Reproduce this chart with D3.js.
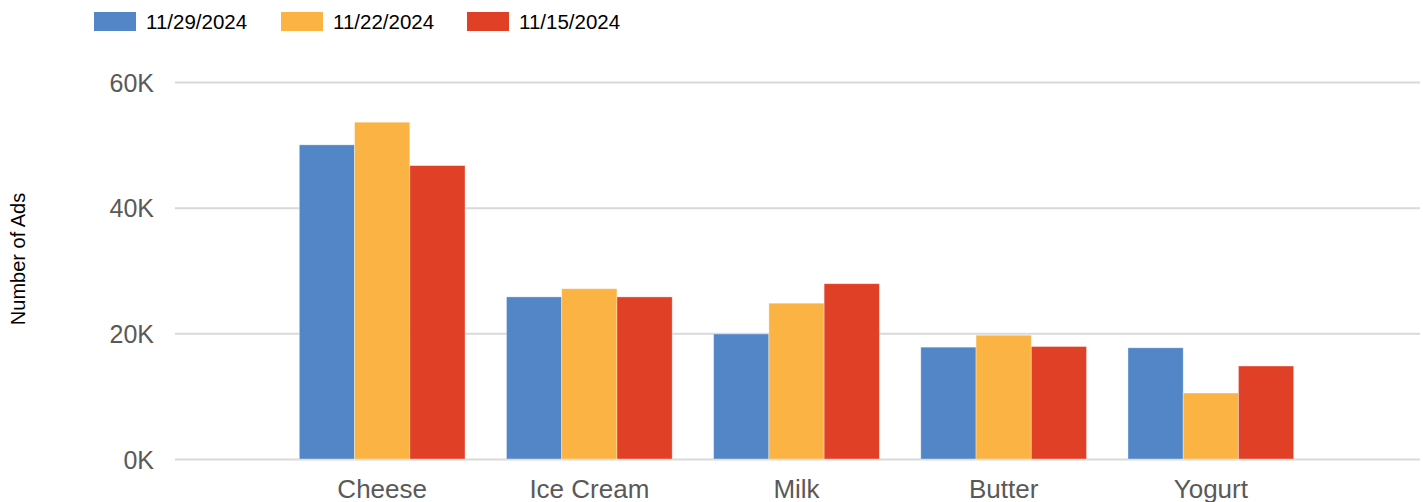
<!DOCTYPE html>
<html>
<head>
<meta charset="utf-8">
<script src="https://cdn.jsdelivr.net/npm/d3@7/dist/d3.min.js"></script>
<style>
  html, body { margin: 0; padding: 0; background: #fff; }
  svg { display: block; font-family: "Liberation Sans", Arial, sans-serif; }
</style>
</head>
<body>
<svg id="chart" width="1423" height="502"></svg>
<script>
// Weekly ad counts by dairy category
const categories = ["Cheese", "Ice Cream", "Milk", "Butter", "Yogurt"];
const seriesNames = ["11/29/2024", "11/22/2024", "11/15/2024"];
const seriesColors = ["#5386C7", "#FBB344", "#E04126"];
const values_1129 = [50000, 25800, 19900, 17800, 17700];
const values_1122 = [53600, 27100, 24800, 19700, 10500];
const values_1115 = [46700, 25800, 27900, 17900, 14800];
const yTicks = [0, 20000, 40000, 60000];
const yTitle = "Number of Ads";

const seriesValues = [values_1129, values_1122, values_1115];

const svg = d3.select("#chart");
const plot = { left: 175, right: 1418, top: 82, bottom: 459 };

const x0 = d3.scaleBand()
  .domain(categories)
  .range([plot.left, plot.right])
  .paddingInner(0.2)
  .paddingOuter(0.6);

const x1 = d3.scaleBand()
  .domain(seriesNames)
  .range([0, x0.bandwidth()])
  .padding(0);

const y = d3.scaleLinear()
  .domain([0, 60000])
  .range([plot.bottom, plot.top]);

// Horizontal gridlines with tick labels
const yAxis = d3.axisLeft(y)
  .tickValues(yTicks)
  .tickSize(-(1420 - plot.left))
  .tickPadding(21)
  .tickFormat(d => (d / 1000) + "K");

const gy = svg.append("g")
  .attr("transform", `translate(${plot.left},0)`)
  .call(yAxis);
gy.select(".domain").remove();
gy.selectAll(".tick line")
  .attr("stroke", "#d9d9d9")
  .attr("stroke-width", 2);
gy.selectAll(".tick text")
  .attr("fill", "#595959")
  .style("font-size", "25px")
  .attr("dy", "0.36em");

// Bars
const groups = svg.append("g")
  .selectAll("g")
  .data(categories)
  .join("g")
  .attr("transform", d => `translate(${x0(d)},0)`);

groups.selectAll("rect")
  .data((d, i) => seriesNames.map((s, k) => ({ s, k, v: seriesValues[k][i] })))
  .join("rect")
  .attr("x", d => x1(d.s))
  .attr("y", d => y(d.v))
  .attr("width", x1.bandwidth())
  .attr("height", d => y(0) - y(d.v))
  .attr("fill", d => seriesColors[d.k])
  .attr("stroke", "#ffffff")
  .attr("stroke-opacity", 0.45)
  .attr("stroke-width", 0.8);

// Category labels
const xAxis = d3.axisBottom(x0).tickSize(0).tickPadding(0);
const gx = svg.append("g")
  .attr("transform", `translate(0,${plot.bottom})`)
  .call(xAxis);
gx.select(".domain").remove();
gx.selectAll(".tick text")
  .attr("fill", "#595959")
  .style("font-size", "26px")
  .attr("y", 39)
  .attr("dy", 0);

// Y-axis title
svg.append("text")
  .attr("transform", "translate(25,259) rotate(-90)")
  .attr("text-anchor", "middle")
  .attr("fill", "#000")
  .style("font-size", "20px")
  .text(yTitle);

// Legend
const legendX = [94, 281, 467];
const legend = svg.append("g")
  .selectAll("g")
  .data(seriesNames)
  .join("g")
  .attr("transform", (d, i) => `translate(${legendX[i]},12)`);
legend.append("rect")
  .attr("width", 42)
  .attr("height", 19)
  .attr("fill", (d, i) => seriesColors[i]);
legend.append("text")
  .attr("x", 52)
  .attr("y", 16.5)
  .attr("fill", "#000")
  .style("font-size", "20.5px")
  .text(d => d);
</script>
</body>
</html>
